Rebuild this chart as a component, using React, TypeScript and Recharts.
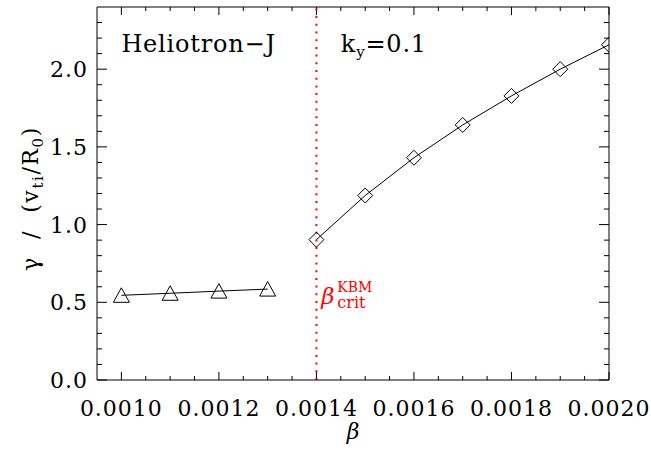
import React from "react"
import { LineChart, Line, XAxis, YAxis, ReferenceLine, ReferenceDot } from "recharts"

// ── Data ──────────────────────────────────────────────────────
const betaLow = [0.001, 0.0011, 0.0012, 0.0013]
const gammaLow = [0.545, 0.558, 0.572, 0.585]
const betaHigh = [0.0014, 0.0015, 0.0016, 0.0017, 0.0018, 0.0019, 0.002]
const gammaHigh = [0.903, 1.187, 1.43, 1.641, 1.828, 2.0, 2.157]

const betaCrit = 0.0014

const xMajor = [0.001, 0.0012, 0.0014, 0.0016, 0.0018, 0.002]
const xMinor = [
  0.00105, 0.0011, 0.00115, 0.00125, 0.0013, 0.00135, 0.00145, 0.0015,
  0.00155, 0.00165, 0.0017, 0.00175, 0.00185, 0.0019, 0.00195,
]
const yMajor = [0, 0.5, 1.0, 1.5, 2.0]
const yMinor = [0.1, 0.2, 0.3, 0.4, 0.6, 0.7, 0.8, 0.9, 1.1, 1.2, 1.3, 1.4, 1.6, 1.7, 1.8, 1.9, 2.1, 2.2, 2.3]

const lowData = betaLow.map((b, i) => ({ beta: b, gamma: gammaLow[i] }))
const highData = betaHigh.map((b, i) => ({ beta: b, gamma: gammaHigh[i] }))

const FONT = "'DejaVu Serif', serif"
const X_DOMAIN: [number, number] = [0.00095, 0.002]
const Y_DOMAIN: [number, number] = [0, 2.4]

// inward tick lengths, in data units (≈ 8/4 px vertical, 10/5 px horizontal)
const X_TICK_MAJOR = 0.052
const X_TICK_MINOR = 0.026
const Y_TICK_MAJOR = 0.0000205
const Y_TICK_MINOR = 0.0000103

// ── Tick labels ───────────────────────────────────────────────
function BottomLabel({ x, y, payload }: any) {
  return (
    <text x={x} y={y + 36} textAnchor="middle" fontFamily={FONT} fontSize={22} letterSpacing={1} fill="#000" stroke="none">
      {payload.value.toFixed(4)}
    </text>
  )
}

function LeftLabel({ x, y, payload }: any) {
  return (
    <text x={x - 9} y={y + 8} textAnchor="end" fontFamily={FONT} fontSize={22} letterSpacing={1} fill="#000" stroke="none">
      {payload.value.toFixed(1)}
    </text>
  )
}

// ── Markers ───────────────────────────────────────────────────
function TriangleDot({ cx, cy, index }: any) {
  return (
    <path
      key={`t${index}`}
      d={`M${cx},${cy - 7.5} L${cx + 8},${cy + 7} L${cx - 8},${cy + 7} Z`}
      fill="none"
      stroke="#000"
      strokeWidth={1}
    />
  )
}

function DiamondDot({ cx, cy, index }: any) {
  const r = 7.5
  return (
    <path
      key={`d${index}`}
      d={`M${cx},${cy - r} L${cx + r},${cy} L${cx},${cy + r} L${cx - r},${cy} Z`}
      fill="none"
      stroke="#000"
      strokeWidth={1}
    />
  )
}

// ── Titles / annotations ──────────────────────────────────────
function YTitle({ viewBox }: any) {
  const bx = viewBox.x + 38
  const cy = viewBox.y + viewBox.height / 2 + 5
  return (
    <text
      x={bx}
      y={cy}
      transform={`rotate(-90, ${bx}, ${cy})`}
      textAnchor="middle"
      fontFamily={FONT}
      fontSize={22}
      letterSpacing={1.6}
      fill="#000"
      style={{ whiteSpace: "pre" }}
    >
      <tspan>{"γ  /  (v"}</tspan>
      <tspan dy={5} fontSize={15}>ti</tspan>
      <tspan dy={-5}>/R</tspan>
      <tspan dy={5} fontSize={15}>0</tspan>
      <tspan dy={-5}>)</tspan>
    </text>
  )
}

function XTitle({ viewBox }: any) {
  return (
    <text x={viewBox.x + viewBox.width / 2} y={viewBox.y + 59} textAnchor="middle"
      fontFamily={FONT} fontSize={22} fontStyle="italic" fill="#000">
      β
    </text>
  )
}

function TextAt({ viewBox, children }: any) {
  return (
    <text x={viewBox.x} y={viewBox.y} fontFamily={FONT} fontSize={24} letterSpacing={0.8} fill="#000" style={{ whiteSpace: "pre" }}>
      {children}
    </text>
  )
}

function CritLabel({ viewBox }: any) {
  const x = viewBox.x
  const y = viewBox.y
  return (
    <g fill="#ff0000" fontFamily={FONT}>
      <text x={x} y={y - 3} fontSize={23} fontStyle="italic">β</text>
      <text x={x + 16} y={y - 15} fontSize={14}>KBM</text>
      <text x={x + 16} y={y + 1} fontSize={16}>crit</text>
    </g>
  )
}

const tickSeg = (key: string, a: { x: number; y: number }, b: { x: number; y: number }) => (
  <ReferenceLine key={key} segment={[a, b]} stroke="#000" strokeWidth={1} ifOverflow="visible" />
)

export default function App() {
  const [x0, x1] = X_DOMAIN
  const [y0, y1] = Y_DOMAIN
  const xTickMarks = [
    ...xMajor.map((v) => ({ v, len: X_TICK_MAJOR })),
    ...xMinor.map((v) => ({ v, len: X_TICK_MINOR })),
  ]
  const yTickMarks = [
    ...yMajor.map((v) => ({ v, len: Y_TICK_MAJOR })),
    ...yMinor.map((v) => ({ v, len: Y_TICK_MINOR })),
  ]

  return (
    <div style={{ position: "absolute", left: 0, top: 0, background: "#fff" }}>
      <LineChart width={651} height={453} margin={{ top: 7, right: 42, bottom: 0, left: 0 }}>
        <XAxis
          dataKey="beta"
          type="number"
          domain={X_DOMAIN}
          allowDataOverflow
          ticks={xMajor}
          interval={0}
          tickSize={0}
          tickMargin={0}
          tickLine={false}
          axisLine={{ stroke: "#000" }}
          tick={<BottomLabel />}
          height={73}
          label={{ content: XTitle }}
        />
        <XAxis
          xAxisId="top"
          dataKey="beta"
          type="number"
          orientation="top"
          domain={X_DOMAIN}
          allowDataOverflow
          tick={false}
          tickLine={false}
          axisLine={{ stroke: "#000" }}
          height={0}
        />
        <YAxis
          type="number"
          domain={Y_DOMAIN}
          allowDataOverflow
          ticks={yMajor}
          interval={0}
          tickSize={0}
          tickMargin={0}
          tickLine={false}
          axisLine={{ stroke: "#000" }}
          tick={<LeftLabel />}
          width={97}
          label={{ content: YTitle }}
        />
        <YAxis
          yAxisId="right"
          type="number"
          orientation="right"
          domain={Y_DOMAIN}
          allowDataOverflow
          tick={false}
          tickLine={false}
          axisLine={{ stroke: "#000" }}
          width={0}
        />
        {/* frame (top & right) */}
        {tickSeg("frame-top", { x: x0, y: y1 }, { x: x1, y: y1 })}
        {tickSeg("frame-right", { x: x1, y: y0 }, { x: x1, y: y1 })}
        {/* inward tick marks on all four sides */}
        {xTickMarks.map((t, i) => tickSeg(`xb${i}`, { x: t.v, y: y0 }, { x: t.v, y: y0 + t.len }))}
        {xTickMarks.map((t, i) => tickSeg(`xt${i}`, { x: t.v, y: y1 }, { x: t.v, y: y1 - t.len }))}
        {yTickMarks.map((t, i) => tickSeg(`yl${i}`, { x: x0, y: t.v }, { x: x0 + t.len, y: t.v }))}
        {yTickMarks.map((t, i) => tickSeg(`yr${i}`, { x: x1, y: t.v }, { x: x1 - t.len, y: t.v }))}

        <ReferenceLine x={betaCrit} stroke="#ff0000" strokeWidth={2} strokeDasharray="2 5.7" />
        <Line
          data={lowData}
          dataKey="gamma"
          stroke="#000"
          strokeWidth={1}
          dot={TriangleDot}
          activeDot={false}
          isAnimationActive={false}
        />
        <Line
          data={highData}
          dataKey="gamma"
          stroke="#000"
          strokeWidth={1}
          dot={DiamondDot}
          activeDot={false}
          isAnimationActive={false}
        />
        <ReferenceDot x={0.001} y={2.11} r={0} fill="none" stroke="none"
          label={{ content: (p: any) => <TextAt viewBox={p.viewBox}>Heliotron−J</TextAt> }} />
        <ReferenceDot x={0.00145} y={2.11} r={0} fill="none" stroke="none"
          label={{
            content: (p: any) => (
              <TextAt viewBox={p.viewBox}>
                <tspan>k</tspan>
                <tspan dy={5} fontSize={15}>y</tspan>
                <tspan dy={-5}>=0.1</tspan>
              </TextAt>
            ),
          }} />
        <ReferenceDot x={0.00141} y={0.47} r={0} fill="none" stroke="none"
          label={{ content: CritLabel }} />
      </LineChart>
    </div>
  )
}
